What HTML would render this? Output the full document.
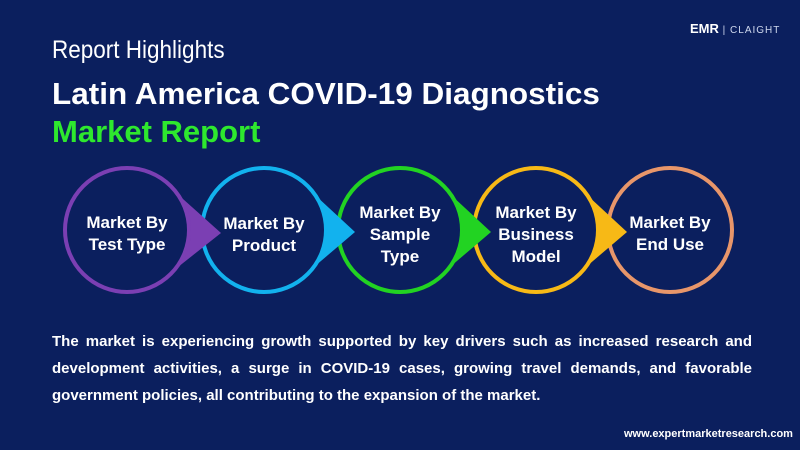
<!DOCTYPE html>
<html><head><meta charset="utf-8"><style>
body{margin:0;width:800px;height:450px;background:#0b1f5e;overflow:hidden;position:relative;font-family:"Liberation Sans",sans-serif}
.t{position:absolute;color:#fff;white-space:nowrap}
</style></head><body>
<div class="t" style="left:52px;top:36px;font-size:25px;transform:scaleX(0.9);transform-origin:left">Report Highlights</div>
<div class="t" style="left:52px;top:76px;font-size:31px;font-weight:bold;transform:scaleX(1.015);transform-origin:left">Latin America COVID-19 Diagnostics</div>
<div class="t" style="left:52px;top:114px;font-size:31px;font-weight:bold;color:#2ee82e">Market Report</div>
<div class="t" style="left:690px;top:21px;font-size:13px;font-weight:bold;">EMR<span style="font-weight:normal;letter-spacing:1px;color:#cfd8ee;font-size:10px"> | CLAIGHT</span></div>
<svg width="800" height="450" style="position:absolute;left:0;top:0">
<g font-family="Liberation Sans, sans-serif" font-weight="bold" font-size="17" fill="#fff" text-anchor="middle">
<g>
<circle cx="670" cy="230" r="62" fill="#0b1f5e" stroke="#e8966a" stroke-width="4"/>
<text x="670" y="228">Market By</text><text x="670" y="250">End Use</text>
</g>
<g>
<path d="M571.6,180.8 L627,232 L571.6,279.2 Z" fill="#f7b916"/>
<circle cx="536" cy="230" r="62" fill="#0b1f5e" stroke="#f7b916" stroke-width="4"/>
<text x="536" y="218">Market By</text><text x="536" y="240">Business</text><text x="536" y="262">Model</text>
</g>
<g>
<path d="M435.6,180.8 L491,232 L435.6,279.2 Z" fill="#22d322"/>
<circle cx="400" cy="230" r="62" fill="#0b1f5e" stroke="#22d322" stroke-width="4"/>
<text x="400" y="218">Market By</text><text x="400" y="240">Sample</text><text x="400" y="262">Type</text>
</g>
<g>
<path d="M299.6,180.8 L355,232 L299.6,279.2 Z" fill="#12b2ee"/>
<circle cx="264" cy="230" r="62" fill="#0b1f5e" stroke="#12b2ee" stroke-width="4"/>
<text x="264" y="229">Market By</text><text x="264" y="251">Product</text>
</g>
<g>
<path d="M162.6,180.8 L221,233 L162.6,279.2 Z" fill="#7b3fb3"/>
<circle cx="127" cy="230" r="62" fill="#0b1f5e" stroke="#7b3fb3" stroke-width="4"/>
<text x="127" y="228">Market By</text><text x="127" y="250">Test Type</text>
</g>
</g></svg>
<div class="t" style="left:52px;top:328px;width:700px;font-size:15px;font-weight:bold;line-height:27px;text-align:justify;text-align-last:left;white-space:normal">The market is experiencing growth supported by key drivers such as increased research and development activities, a surge in COVID-19 cases, growing travel demands, and favorable government policies, all contributing to the expansion of the market.</div>
<div class="t" style="left:624px;top:428px;font-size:11px;font-weight:bold;">www.expertmarketresearch.com</div>
</body></html>
